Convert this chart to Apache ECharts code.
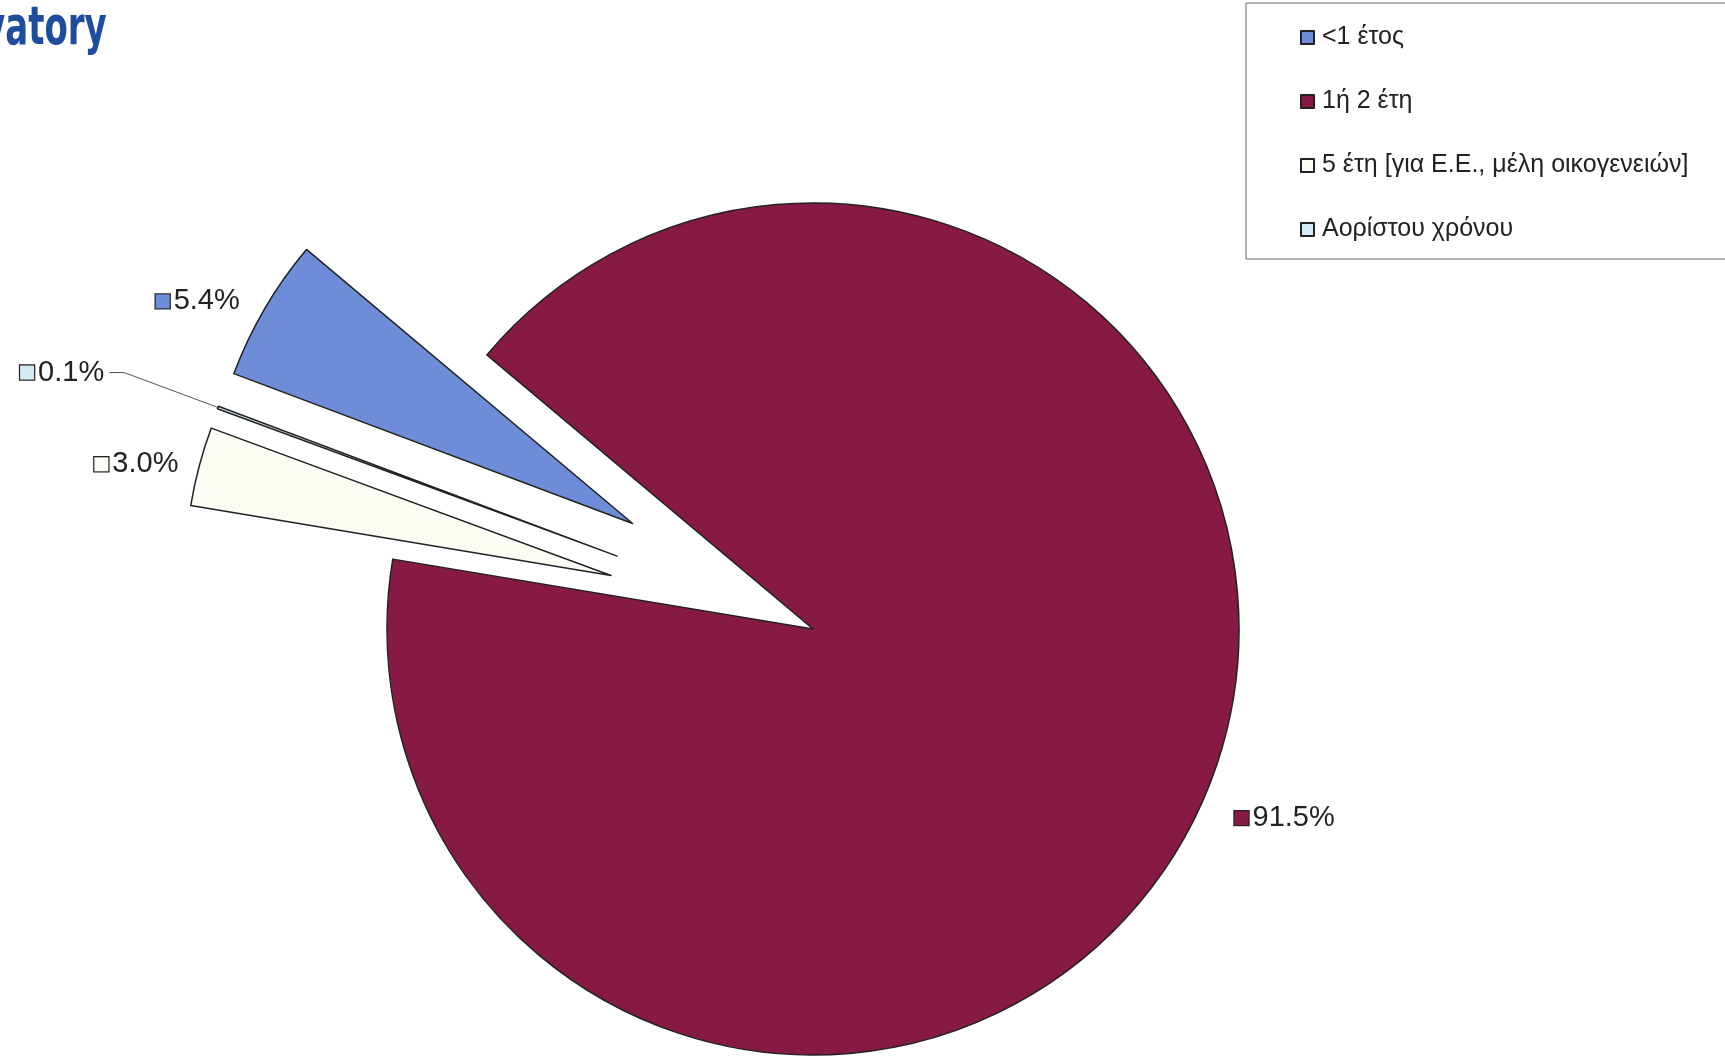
<!DOCTYPE html>
<html>
<head>
<meta charset="utf-8">
<script src="https://cdn.jsdelivr.net/npm/echarts@6/dist/echarts.min.js"></script>
<style>
  html, body { margin: 0; padding: 0; background: #fff; }
  #chart { width: 1725px; height: 1060px; }
</style>
</head>
<body>
<div id="chart"></div>
<script>
// data
const categories = ['<1 έτος', '1ή 2 έτη', '5 έτη [για Ε.Ε., μέλη οικογενειών]', 'Αορίστου χρόνου'];
const values = [5.4, 91.5, 3.0, 0.1];
const exploded = [true, false, true, true];

// looks
const colors = ['#6d8dd9', '#861a44', '#fdfdf5', '#d3ebf6'];
const lineLen = [14, 26, 8, 100];
const lineLen2 = [8, 6, 8, 15];
const showLine = [false, false, false, true];

const myChart = echarts.init(document.getElementById('chart'));

const rich = {};
colors.forEach((c, i) => {
  rich['s' + i] = {
    width: 14, height: 14,
    backgroundColor: c,
    borderColor: '#222', borderWidth: 1.2
  };
  rich['t' + i] = {
    fontSize: 29, fontFamily: 'Liberation Sans, Arial, sans-serif', color: '#222',
    padding: [0, 0, 0, 4]
  };
});

myChart.setOption({
  backgroundColor: '#fff',
  animation: false,
  color: colors,
  graphic: [{
    type: 'text',
    left: -17,
    top: 3,
    scaleX: 0.63,
    style: {
      text: 'vatory',
      font: 'bold 54px "DejaVu Sans"',
      fill: '#1f4d9e'
    }
  }],
  legend: {
    orient: 'vertical',
    left: 1246,
    top: 3,
    padding: [22, 300, 17, 54],
    itemGap: 39,
    itemWidth: 13,
    itemHeight: 13,
    icon: 'rect',
    borderColor: '#666',
    borderWidth: 1,
    selectedMode: false,
    textStyle: {
      fontSize: 25,
      fontFamily: 'Liberation Sans, Arial, sans-serif',
      color: '#222',
      padding: [0, 0, 0, 3]
    },
    data: categories
  },
  series: [{
    type: 'pie',
    center: [813, 629],
    radius: 426,
    startAngle: 159.4,
    clockwise: true,
    selectedMode: 'multiple',
    selectedOffset: 209,
    avoidLabelOverlap: false,
    emphasis: { disabled: true },
    itemStyle: {
      borderColor: '#222',
      borderWidth: 1.5
    },
    label: {
      show: true,
      position: 'outside',
      formatter: p => `{s${p.dataIndex}|}{t${p.dataIndex}|${values[p.dataIndex].toFixed(1)}%}`,
      rich: rich
    },
    data: categories.map((name, i) => ({
      name: name,
      value: values[i],
      selected: exploded[i],
      labelLine: {
        show: showLine[i],
        length: lineLen[i],
        length2: lineLen2[i],
        lineStyle: { color: '#555', width: 1 }
      }
    }))
  }]
});
</script>
</body>
</html>
